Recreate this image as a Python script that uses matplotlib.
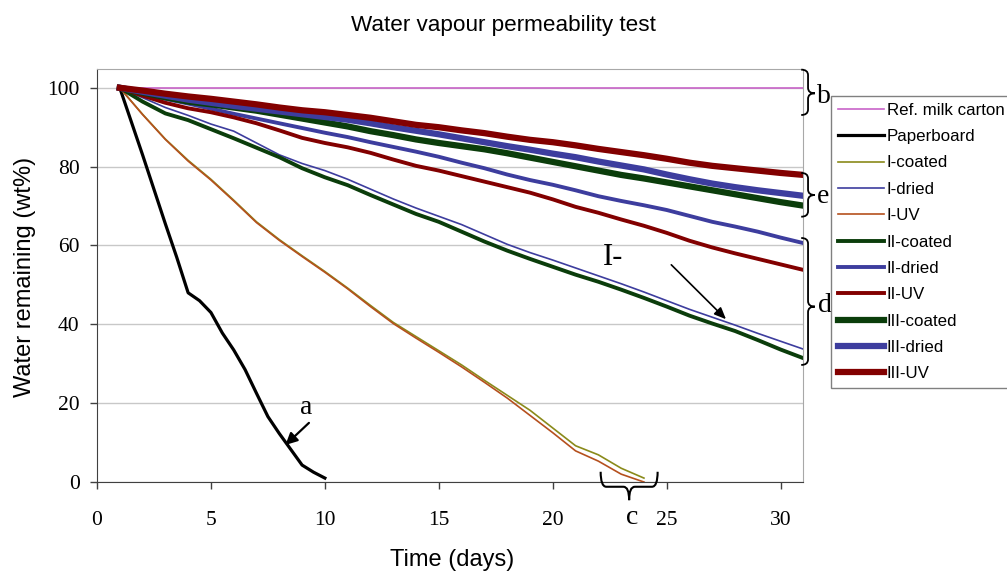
import matplotlib
matplotlib.use('Agg')
import matplotlib.pyplot as plt
from matplotlib.path import Path
from matplotlib.patches import PathPatch

# measured water remaining (wt%) against time (days)
days = list(range(1, 32))
ref_days = [1, 31]
ref_carton = [100, 100]

paper_days = [1, 2, 3, 3.5, 4, 4.5, 5, 5.5, 6, 6.5, 7, 7.5, 8, 8.5, 9, 9.5, 10]
paperboard = [100, 83, 65.5, 57, 48, 46, 43, 37.8, 33.5, 28.5, 22.5, 16.6, 12.3, 8.3, 4.3, 2.5, 1]

i_days = list(range(1, 25))
i_coated = [100, 93.3, 87.0, 81.6, 76.8, 71.5, 66.0, 61.5, 57.4, 53.4, 49.2, 44.8,
            40.5, 36.9, 33.3, 29.7, 25.8, 22.0, 18.2, 13.7, 9.2, 6.9, 3.5, 1.0]
i_uv = [100, 93.2, 86.9, 81.4, 76.6, 71.3, 65.8, 61.3, 57.2, 53.2, 49.0, 44.5,
        40.2, 36.5, 32.9, 29.2, 25.3, 21.3, 16.9, 12.5, 7.9, 5.3, 2.0, 0.0]

i_dried = [100, 97.5, 95.0, 93.0, 90.8, 89.0, 86.0, 83.0, 80.8, 79.0, 76.8, 74.3,
           71.8, 69.5, 67.4, 65.3, 62.8, 60.3, 58.2, 56.3, 54.3, 52.3, 50.3, 48.2,
           46.0, 43.8, 41.8, 39.8, 37.7, 35.7, 33.7]
ii_coated = [100, 96.5, 93.5, 91.8, 89.5, 87.2, 84.8, 82.4, 79.6, 77.3, 75.3, 72.8,
             70.4, 68.0, 66.0, 63.5, 61.0, 58.7, 56.6, 54.6, 52.6, 50.8, 48.8, 46.7,
             44.5, 42.2, 40.2, 38.3, 36.0, 33.6, 31.4]
ii_dried = [100, 98.5, 97.2, 96.0, 94.7, 93.4, 92.2, 91.0, 89.8, 88.6, 87.5, 86.2,
            85.0, 83.8, 82.5, 81.0, 79.6, 78.0, 76.6, 75.4, 74.0, 72.5, 71.3, 70.2,
            69.0, 67.5, 66.0, 64.8, 63.5, 62.0, 60.6]
ii_uv = [100, 98.0, 96.2, 94.8, 93.8, 92.5, 91.0, 89.2, 87.3, 86.0, 84.9, 83.5,
         81.8, 80.2, 79.0, 77.6, 76.2, 74.8, 73.4, 71.7, 69.8, 68.3, 66.6, 65.0,
         63.2, 61.2, 59.5, 58.0, 56.6, 55.2, 53.8]
iii_coated = [100, 98.8, 97.6, 96.5, 95.8, 95.0, 94.2, 93.2, 92.2, 91.2, 90.2, 89.0,
              88.0, 86.9, 86.0, 85.2, 84.4, 83.4, 82.3, 81.2, 80.1, 79.0, 77.9, 77.0,
              76.0, 75.0, 74.0, 73.0, 72.0, 71.0, 70.1]
iii_dried = [100, 99.0, 98.0, 97.0, 96.2, 95.4, 94.7, 94.0, 93.3, 92.6, 91.9, 91.0,
             90.0, 89.1, 88.2, 87.2, 86.2, 85.2, 84.3, 83.3, 82.4, 81.3, 80.3, 79.3,
             78.0, 76.8, 75.7, 74.8, 74.0, 73.3, 72.6]
iii_uv = [100, 99.3, 98.5, 97.8, 97.2, 96.5, 95.8, 95.0, 94.3, 93.8, 93.1, 92.4,
          91.5, 90.6, 90.0, 89.2, 88.5, 87.6, 86.8, 86.2, 85.4, 84.5, 83.7, 82.9,
          82.0, 81.0, 80.2, 79.6, 79.0, 78.4, 77.9]

SANS = 'Liberation Sans'
SERIF = 'Liberation Serif'

BLUE = '#3d3d9e'
GREEN = '#0b3d0b'
RED = '#820000'

fig = plt.figure(figsize=(10.07, 5.72), dpi=100)
ax = fig.add_axes([0.0963, 0.1573, 0.7016, 0.7216])

ax.plot(ref_days, ref_carton, color='#c864c8', lw=1.2, label='Ref. milk carton')
ax.plot(paper_days, paperboard, color='black', lw=2.3, label='Paperboard')
ax.plot(i_days, i_coated, color='#8a8a1a', lw=1.2, label='I-coated')
ax.plot(days, i_dried, color=BLUE, lw=1.2, label='I-dried')
ax.plot(i_days, i_uv, color='#b5501e', lw=1.2, label='I-UV')
ax.plot(days, ii_coated, color=GREEN, lw=2.8, label='II-coated')
ax.plot(days, ii_dried, color=BLUE, lw=2.8, label='II-dried')
ax.plot(days, ii_uv, color=RED, lw=2.8, label='II-UV')
ax.plot(days, iii_coated, color=GREEN, lw=4.5, label='III-coated')
ax.plot(days, iii_dried, color=BLUE, lw=4.5, label='III-dried')
ax.plot(days, iii_uv, color=RED, lw=4.5, label='III-UV')

ax.set_xlim(0, 31)
ax.set_ylim(0, 104.7)
ax.set_xticks(range(0, 31, 5))
ax.set_yticks(range(0, 101, 20))
ax.yaxis.grid(True, color='#c8c8c8', lw=1)
ax.set_axisbelow(True)
ax.tick_params(direction='out', length=5, width=1, color='#404040')
ax.tick_params(axis='y', pad=7.5)
ax.tick_params(axis='x', pad=16)
for lab in ax.get_xticklabels() + ax.get_yticklabels():
    lab.set_fontfamily(SERIF)
    lab.set_fontsize(15.5)
for side in ('left', 'bottom'):
    ax.spines[side].set_color('#404040')
for side in ('top', 'right'):
    ax.spines[side].set_color('#a8a8a8')

fig.text(0.5, 1 - 25 / 572, 'Water vapour permeability test', family=SANS,
         fontsize=16.2, ha='center', va='center')
fig.text(25 / 1007, 1 - 277 / 572, 'Water remaining (wt%)', family=SANS,
         fontsize=17, rotation=90, ha='center', va='center')
fig.text(452 / 1007, 1 - 560 / 572, 'Time (days)', family=SANS,
         fontsize=17, ha='center', va='center')

leg = ax.legend(loc='upper left', bbox_to_anchor=(831 / 1007, 1 - 96 / 572),
                bbox_transform=fig.transFigure, prop={'family': SANS, 'size': 12.2},
                frameon=True, fancybox=False, borderpad=0.4, labelspacing=0.67,
                handlelength=2.7, handletextpad=0.2, borderaxespad=0)
leg.get_frame().set_edgecolor('#606060')
leg.get_frame().set_linewidth(1)


def brace_v(x, y_bot, y_top, w, y_tip, k=1.4):
    xm = x + w / 2
    verts = [(x, y_top), (xm, y_top), (xm, y_top - k), (xm, y_tip + k),
             (xm, y_tip), (x + w, y_tip), (xm, y_tip), (xm, y_tip - k),
             (xm, y_bot + k), (xm, y_bot), (x, y_bot)]
    codes = [Path.MOVETO, Path.CURVE3, Path.CURVE3, Path.LINETO,
             Path.CURVE3, Path.CURVE3, Path.CURVE3, Path.CURVE3,
             Path.LINETO, Path.CURVE3, Path.CURVE3]
    ax.add_patch(PathPatch(Path(verts, codes), fc='none', ec='black',
                           lw=1.3, clip_on=False, zorder=5))


def brace_h(x1, x2, y_top, y_mid, x_tip, y_tip, k=0.25):
    verts = [(x1, y_top), (x1, y_mid), (x1 + k, y_mid), (x_tip - k, y_mid),
             (x_tip, y_mid), (x_tip, y_tip), (x_tip, y_mid), (x_tip + k, y_mid),
             (x2 - k, y_mid), (x2, y_mid), (x2, y_top)]
    codes = [Path.MOVETO, Path.CURVE3, Path.CURVE3, Path.LINETO,
             Path.CURVE3, Path.CURVE3, Path.CURVE3, Path.CURVE3,
             Path.LINETO, Path.CURVE3, Path.CURVE3]
    ax.add_patch(PathPatch(Path(verts, codes), fc='none', ec='black',
                           lw=1.5, clip_on=False, zorder=5))


brace_v(30.9, 93.1, 104.6, 0.6, 98.6)
brace_v(30.9, 67.3, 78.4, 0.6, 72.8)
brace_v(30.9, 29.7, 61.9, 0.6, 44.5)
brace_h(22.1, 24.6, 2.6, -1.2, 23.35, -4.6)

letter = dict(family=SERIF, fontsize=20, ha='center', va='center')
ax.text(31.9, 97.7, 'b', **letter)
ax.text(31.85, 72.3, 'e', **letter)
ax.text(31.95, 44.7, 'd', **letter)
ax.text(23.5, -9.1, 'c', **letter)
ax.text(9.2, 19.0, 'a', **letter)
ax.text(22.65, 56.9, 'I-', family=SERIF, fontsize=22, ha='center', va='center')

ax.annotate('', xy=(8.27, 9.4), xytext=(9.3, 15.0),
            arrowprops=dict(arrowstyle='-|>,head_length=0.7,head_width=0.35',
                            lw=1.6, color='black', shrinkA=0, shrinkB=0))
ax.annotate('', xy=(27.6, 41.3), xytext=(25.2, 55.1),
            arrowprops=dict(arrowstyle='-|>,head_length=0.7,head_width=0.3',
                            lw=1.2, color='black', shrinkA=0, shrinkB=0))

fig.savefig('out.png', dpi=100)
